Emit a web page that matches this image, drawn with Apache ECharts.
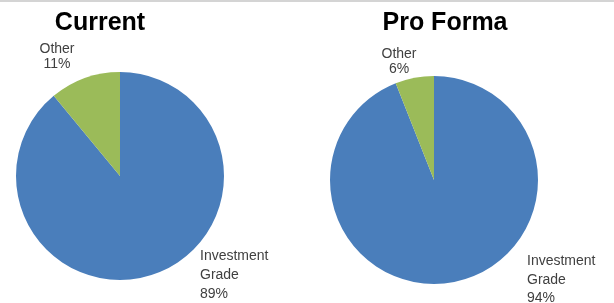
<!DOCTYPE html>
<html>
<head>
<meta charset="utf-8">
<script src="https://cdn.jsdelivr.net/npm/echarts@6/dist/echarts.min.js"></script>
<style>
  html, body { margin: 0; padding: 0; background: #fff; }
  #chart { width: 614px; height: 303px; }
</style>
</head>
<body>
<div id="chart"></div>
<script>
const categories = ['Investment Grade', 'Other'];
const currentValues = [89, 11];
const proFormaValues = [94, 6];
const chartTitles = ['Current', 'Pro Forma'];

const colors = ['#4a7ebb', '#9bbb59'];

// label anchor spots per pie: [investment, other]
const labelSpots = [
  [{ x: 200, y: 247, align: 'left', lh: 19 }, { x: 57, y: 42, align: 'center', lh: 15 }],
  [{ x: 527, y: 252, align: 'left', lh: 18.5 }, { x: 399, y: 47, align: 'center', lh: 15 }]
];

function buildPie(values, center, idx) {
  return {
    type: 'pie',
    center: center,
    radius: 104,
    startAngle: 90,
    clockwise: true,
    animation: false,
    silent: true,
    label: {
      show: true,
      position: 'outside',
      overflow: 'none',
      formatter: p => p.name.replace(' ', '\n') + '\n' + p.value + '%',
      color: '#404040',
      fontFamily: 'Liberation Sans',
      fontSize: 14
    },
    labelLine: { show: false },
    labelLayout: p => {
      const spot = labelSpots[idx][p.dataIndex];
      return { x: spot.x, y: spot.y, align: spot.align, verticalAlign: 'top', hideOverlap: false };
    },
    itemStyle: { borderWidth: 0 },
    data: categories.map((c, i) => ({
      name: c,
      value: values[i],
      itemStyle: { color: colors[i] },
      label: { lineHeight: labelSpots[idx][i].lh, align: labelSpots[idx][i].align }
    }))
  };
}

const titleStyle = { fontFamily: 'Liberation Sans', fontWeight: 'bold', fontSize: 25, color: '#000' };

const chart = echarts.init(document.getElementById('chart'), null, { renderer: 'canvas' });
chart.setOption({
  backgroundColor: '#fff',
  title: [
    { text: chartTitles[0], left: 100, top: 11, padding: 0, textAlign: 'center', textStyle: titleStyle },
    { text: chartTitles[1], left: 445, top: 11, padding: 0, textAlign: 'center', textStyle: titleStyle }
  ],
  graphic: [
    { type: 'rect', shape: { x: 0, y: 0, width: 614, height: 2 }, style: { fill: '#d4d4d4' } }
  ],
  series: [
    buildPie(currentValues, [120, 176], 0),
    buildPie(proFormaValues, [434, 180], 1)
  ]
});
</script>
</body>
</html>
